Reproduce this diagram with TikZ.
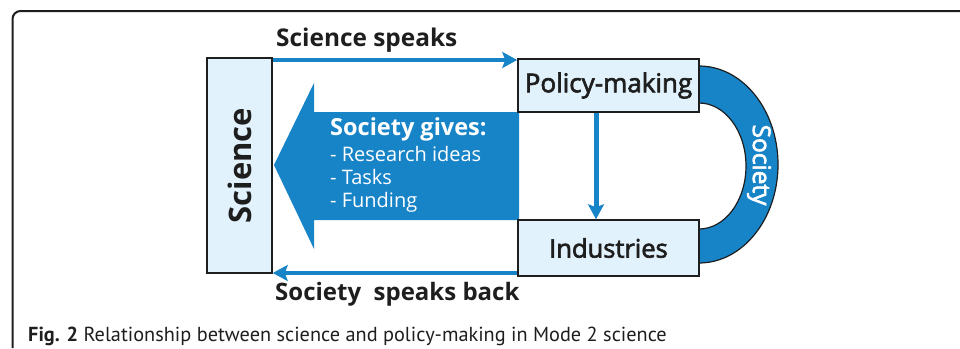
\documentclass[tikz,border=0pt]{standalone}
\usepackage{fontspec}
\setmainfont{Open Sans}
\newfontfamily\semi[FakeBold=2.5]{Open Sans}
\newfontfamily\capfont{PT Sans}
\usetikzlibrary{arrows.meta}
\definecolor{myblue}{RGB}{24,132,200}
\definecolor{boxfill}{RGB}{226,242,252}
\definecolor{ink}{RGB}{30,30,30}
\tikzset{
  box/.style={draw=ink, line width=1.5pt, fill=boxfill, inner sep=0pt},
  flow/.style={draw=myblue, line width=4.5pt, -{Stealth[length=15pt,width=16pt,inset=3pt]}},
  lbl/.style={text=ink, inner sep=0pt},
}
\begin{document}
\begin{tikzpicture}[x=1pt,y=1pt]
\useasboundingbox (0,0) rectangle (960,-348);
% frame
\draw[ink, line width=2pt, rounded corners=8pt] (12.5,-348) -- (12.5,-11) -- (960,-11);
% society band
\path[fill=myblue, draw=ink, line width=1.2pt]
  (699,-66) arc[start angle=90, end angle=-90, x radius=79, y radius=98.5]
  -- (699,-229) arc[start angle=-90, end angle=90, x radius=47, y radius=63] -- cycle;
% big arrow
\path[fill=myblue] (519,-112) -- (314,-112) -- (314,-83) -- (274,-165) -- (314,-249) -- (314,-220) -- (519,-220) -- cycle;
% boxes
\node[box, minimum width=65pt, minimum height=215pt] (sci) at (239.5,-165.5) {};
\node[lbl, rotate=90, font=\bfseries\fontsize{31}{36}\selectfont] (scitxt) at (sci.center) {Science};
\node[box, minimum width=181pt, minimum height=53pt, font=\semi\fontsize{26}{28}\selectfont, text=ink] (pol) at (608.5,-85.5) {Policy-making};
\node[box, minimum width=181pt, minimum height=56pt, font=\semi\fontsize{25.5}{28}\selectfont, text=ink] (ind) at (608.5,-248) {Industries};
% connectors
\coordinate (ytop) at (0,-60);
\coordinate (ybot) at (0,-273);
\coordinate (xdown) at (596,0);
\draw[flow] (sci.east |- ytop) -- (pol.west |- ytop);
\draw[flow] (ind.west |- ybot) -- (sci.east |- ybot);
\draw[flow, line width=5pt] (pol.south -| xdown) -- (ind.north -| xdown);
% labels
\node[lbl, anchor=base west, font=\bfseries\fontsize{24.4}{28}\selectfont] (sspeaks) at (276,-46.7) {Science speaks};
\node[lbl, anchor=base west, font=\bfseries\fontsize{24}{28}\selectfont] (sback) at (275,-300) {Society\ \ speaks back};
\node[lbl, text=white, anchor=base west, font=\bfseries\fontsize{23.5}{26}\selectfont] (gives) at (330,-135) {Society gives:};
\node[lbl, text=white, anchor=base west, font=\fontsize{20}{22}\selectfont] (it1) at (330,-161) {- Research ideas};
\node[lbl, text=white, anchor=base west, font=\fontsize{20}{22}\selectfont] (it2) at (330,-184) {- Tasks};
\node[lbl, text=white, anchor=base west, font=\fontsize{20}{22}\selectfont] (it3) at (330,-207) {- Funding};
\node[lbl, text=white, rotate=-90, font=\semi\fontsize{24.5}{26}\selectfont] (soc) at (759,-165) {Society};
% caption
\node[lbl, anchor=base west, font=\capfont\fontsize{20.3}{24}\selectfont] (cap) at (28,-341) {\textbf{Fig. 2} Relationship between science and policy-making in Mode 2 science};
\end{tikzpicture}
\end{document}
